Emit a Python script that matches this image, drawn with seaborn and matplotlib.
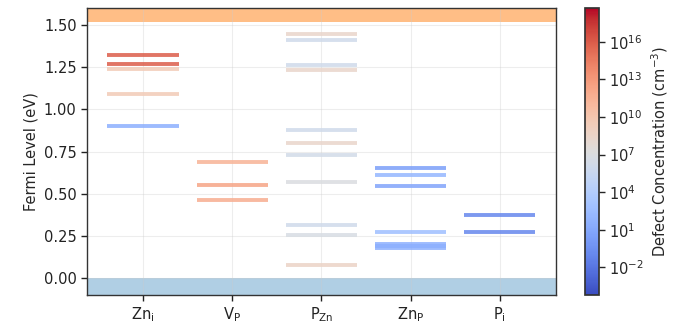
import numpy as np
import pandas as pd
import matplotlib
matplotlib.use("Agg")
import matplotlib.pyplot as plt
from matplotlib.colors import LogNorm
import seaborn as sns

# ---------------- data ----------------
defects = ["Zn_i", "V_P", "P_Zn", "Zn_P", "P_i"]
tick_labels = [r"Zn$_\mathrm{i}$", r"V$_\mathrm{P}$", r"P$_\mathrm{Zn}$",
               r"Zn$_\mathrm{P}$", r"P$_\mathrm{i}$"]

zn_i_levels = [1.32, 1.27, 1.24, 1.09, 0.90]
zn_i_logc = [16.0, 16.0, 9.5, 9.5, 1.5]

v_p_levels = [0.69, 0.55, 0.46]
v_p_logc = [11.4, 12.3, 11.8]

p_zn_levels = [1.446, 1.413, 1.26, 1.23, 0.875, 0.80, 0.73, 0.567, 0.315, 0.258, 0.077]
p_zn_logc = [8.4, 6.1, 6.1, 8.4, 6.1, 8.4, 6.3, 7.0, 6.1, 6.8, 8.6]

zn_p_levels = [0.655, 0.61, 0.546, 0.274, 0.20, 0.19, 0.18]
zn_p_logc = [0.4, 2.0, 0.8, 2.7, 1.5, 1.5, 1.5]

p_i_levels = [0.371, 0.276]
p_i_logc = [-1.0, -1.0]

band_gap = 1.52
y_limits = (-0.1, 1.6)
cbar_log_range = (-4.2, 18.7)
cbar_tick_exps = [-2, 1, 4, 7, 10, 13, 16]

levels_all = [zn_i_levels, v_p_levels, p_zn_levels, zn_p_levels, p_i_levels]
logc_all = [zn_i_logc, v_p_logc, p_zn_logc, zn_p_logc, p_i_logc]

# build long table of segments
rows = []
seg = 0
half = 0.4
for i, (lv, lc) in enumerate(zip(levels_all, logc_all)):
    for e, c in zip(lv, lc):
        for dx in (-half, half):
            rows.append({"x": i + dx, "E": e, "conc": 10.0 ** c, "seg": seg})
        seg += 1
df = pd.DataFrame(rows)

# ---------------- plot ----------------
sns.set_theme(style="ticks")
plt.rcParams["font.family"] = ["DejaVu Sans"]

fig = plt.figure(figsize=(6.86, 3.29), dpi=100)
ax = fig.add_axes([0.1268, 0.1033, 0.8105 - 0.1268, 0.9757 - 0.1033])
cax = fig.add_axes([0.8528, 0.1033, 0.0204, 0.9757 - 0.1033])

norm = LogNorm(vmin=10 ** cbar_log_range[0], vmax=10 ** cbar_log_range[1])
cmap = plt.get_cmap("coolwarm")

ax.axhspan(band_gap, y_limits[1], color="#ff7f0e", alpha=0.5, lw=0, zorder=0)
ax.axhspan(y_limits[0], 0.0, color="#1f77b4", alpha=0.35, lw=0, zorder=0)

sns.lineplot(data=df, x="x", y="E", units="seg", estimator=None,
             hue="conc", hue_norm=norm, palette="coolwarm",
             lw=2.8, alpha=0.85, legend=False, ax=ax, zorder=3,
             solid_capstyle="butt")

ax.set_xlim(-0.63, len(defects) - 1 + 0.63)
ax.set_ylim(*y_limits)
ax.set_xticks(range(len(defects)))
ax.set_xticklabels(tick_labels, fontsize=10.5)
ax.set_yticks([0, 0.25, 0.5, 0.75, 1.0, 1.25, 1.5])
ax.set_yticklabels([f"{v:.2f}" for v in [0, 0.25, 0.5, 0.75, 1.0, 1.25, 1.5]], fontsize=10.5)
ax.set_xlabel("")
ax.set_ylabel("Fermi Level (eV)", fontsize=10.5)
ax.grid(True, color="#cccccc", alpha=0.35, lw=0.8)
ax.set_axisbelow(True)
for s in ax.spines.values():
    s.set_color("#333333")
    s.set_linewidth(1.0)
ax.tick_params(colors="#222222", width=1.0, length=4)

sm = matplotlib.cm.ScalarMappable(norm=norm, cmap=cmap)
cb = fig.colorbar(sm, cax=cax)
cb.set_ticks([10.0 ** e for e in cbar_tick_exps])
cb.set_ticklabels([rf"$10^{{{e}}}$" for e in cbar_tick_exps])
cb.ax.minorticks_off()
cb.ax.tick_params(labelsize=10.5, width=1.0, length=4)
cb.set_label(r"Defect Concentration (cm$^{-3}$)", fontsize=10.5)
cb.outline.set_edgecolor("#333333")

fig.savefig("out.png", dpi=100)
